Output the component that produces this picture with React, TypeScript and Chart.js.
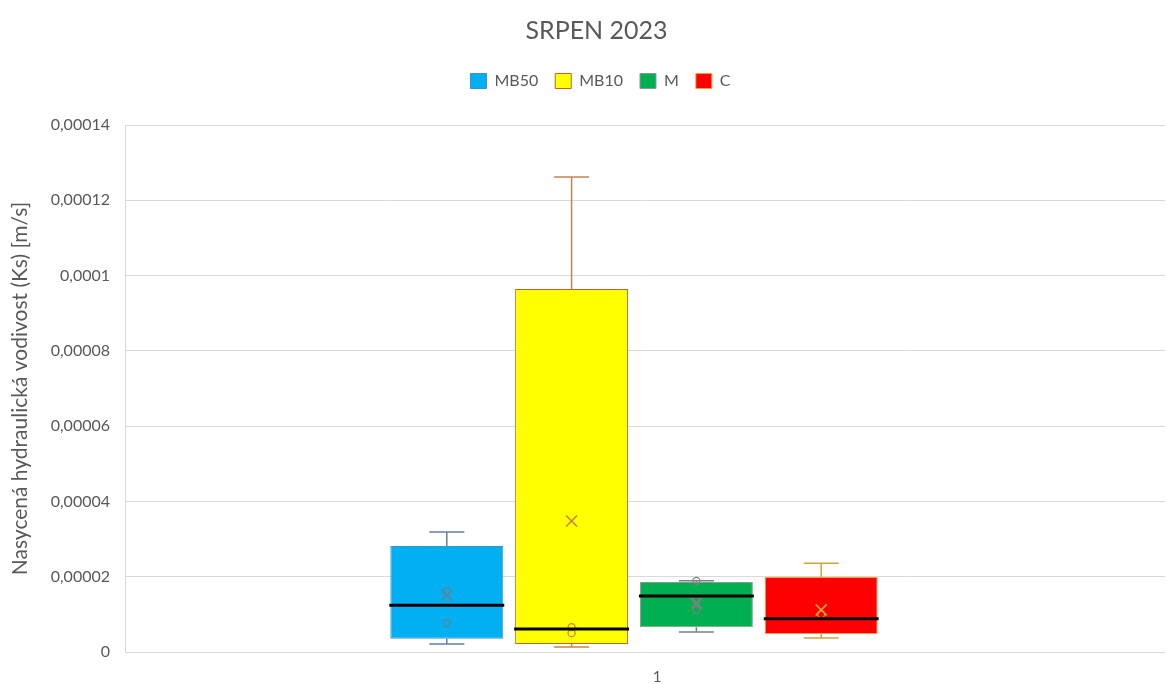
import React, { useEffect, useRef } from "react";
import { Chart, registerables } from "chart.js";

Chart.register(...registerables);

const categories = ["1"];
const seriesNames = ["MB50", "MB10", "M", "C"];
const q1 = [3.5e-6, 2.1e-6, 6.6e-6, 4.8e-6];
const q3 = [2.815e-5, 9.64e-5, 1.86e-5, 1.99e-5];
const whiskerMin = [2.1e-6, 1.3e-6, 5.3e-6, 3.7e-6];
const whiskerMax = [3.19e-5, 1.262e-4, 1.89e-5, 2.36e-5];
const medians = [1.24e-5, 6.1e-6, 1.49e-5, 8.8e-6];
const means = [1.51e-5, 3.48e-5, 1.3e-5, 1.12e-5];
const innerPoints = [
  [1.62e-5, 7.7e-6],
  [6.6e-6, 5.0e-6],
  [1.89e-5, 1.38e-5, 1.12e-5],
  [1.0e-5],
];
const yTicksMax = 0.00014;
const yTicksStep = 0.00002;

const fillColors = ["#00B0F0", "#FFFF00", "#00B050", "#FF0000"];
const borderColors = ["#3d93c8", "#C0652A", "#8a9a90", "#F0A040"];
const whiskerColors = ["#62809c", "#c8824a", "#808080", "#cfa53a"];

const FONT = "Lato, 'Open Sans', sans-serif";
const TEXT = "#595959";

const boxPlugin = {
  id: "boxDecor",
  afterDatasetsDraw(chart: any) {
    const ctx = chart.ctx;
    const y = chart.scales.y;
    seriesNames.forEach((_, i) => {
      const meta = chart.getDatasetMeta(i);
      const bar: any = meta.data[0];
      if (!bar) return;
      const x = bar.x;
      const w = bar.width;
      const cap = w * 0.31;
      const col = whiskerColors[i];
      ctx.save();
      ctx.strokeStyle = col;
      ctx.lineWidth = 1.5;
      const yq3 = y.getPixelForValue(q3[i]);
      const yq1 = y.getPixelForValue(q1[i]);
      const yMax = y.getPixelForValue(whiskerMax[i]);
      const yMin = y.getPixelForValue(whiskerMin[i]);
      ctx.beginPath();
      ctx.moveTo(x, yq3);
      ctx.lineTo(x, yMax);
      ctx.moveTo(x - cap / 2, yMax);
      ctx.lineTo(x + cap / 2, yMax);
      ctx.moveTo(x, yq1);
      ctx.lineTo(x, yMin);
      ctx.moveTo(x - cap / 2, yMin);
      ctx.lineTo(x + cap / 2, yMin);
      ctx.stroke();
      ctx.lineWidth = 1.3;
      innerPoints[i].forEach((v) => {
        const py = y.getPixelForValue(v);
        ctx.beginPath();
        ctx.arc(x, py, 3.5, 0, Math.PI * 2);
        ctx.stroke();
      });
      const my = y.getPixelForValue(means[i]);
      const s = 5.5;
      ctx.lineWidth = 1.6;
      ctx.beginPath();
      ctx.moveTo(x - s, my - s);
      ctx.lineTo(x + s, my + s);
      ctx.moveTo(x + s, my - s);
      ctx.lineTo(x - s, my + s);
      ctx.stroke();
      const mdy = y.getPixelForValue(medians[i]);
      ctx.strokeStyle = "#000000";
      ctx.lineWidth = 3;
      ctx.beginPath();
      ctx.moveTo(x - w / 2 - 1, mdy);
      ctx.lineTo(x + w / 2 + 1, mdy);
      ctx.stroke();
      ctx.restore();
    });
  },
};

const headerPlugin = {
  id: "headerTweaks",
  beforeInit(chart: any) {
    const legend = chart.legend;
    if (!legend) return;
    const fit = legend.fit;
    legend.fit = function () {
      fit.call(this);
      this.height += 26;
    };
  },
  afterLayout(chart: any) {
    const t = chart.titleBlock;
    if (t) {
      t.left += 14;
      t.right += 14;
    }
    const l = chart.legend;
    if (l) {
      l.left += 18;
      l.right += 18;
    }
    const xs = chart.scales.x;
    if (xs) {
      xs.left -= 11;
      xs.right -= 11;
      xs.configure();
    }
  },
};

function fmt(v: number) {
  const n = Number(Number(v).toPrecision(6));
  return String(n).replace(".", ",");
}

export default function App() {
  const ref = useRef<HTMLCanvasElement>(null);
  useEffect(() => {
    document.body.style.margin = "0";
    const chart = new Chart(ref.current as HTMLCanvasElement, {
      type: "bar",
      data: {
        labels: categories,
        datasets: seriesNames.map((name, i) => ({
          label: name,
          data: [[q1[i], q3[i]]] as any,
          backgroundColor: fillColors[i],
          borderColor: borderColors[i],
          borderWidth: 1,
          borderSkipped: false,
        })),
      },
      options: {
        animation: false,
        responsive: true,
        maintainAspectRatio: false,
        layout: { padding: { left: 0, right: 1, top: 0, bottom: 0 } },
        datasets: { bar: { categoryPercentage: 0.48, barPercentage: 0.905 } },
        plugins: {
          title: {
            display: true,
            text: "SRPEN 2023",
            color: TEXT,
            font: { family: FONT, size: 25, weight: "normal" },
            padding: { top: 16, bottom: 10 },
          },
          legend: {
            display: true,
            position: "top",
            labels: {
              color: TEXT,
              font: { family: FONT, size: 16 },
              boxWidth: 16,
              boxHeight: 15,
              padding: 17,
            },
          },
          tooltip: { enabled: false },
        },
        scales: {
          x: {
            afterFit(scale: any) {
              scale.height = 32;
            },
            grid: { display: false, drawTicks: false },
            border: { display: false },
            ticks: { color: TEXT, font: { family: FONT, size: 15 }, padding: 16, labelOffset: 23 },
          },
          y: {
            min: 0,
            max: yTicksMax,
            afterFit(scale: any) {
              scale.width = 125;
            },
            grid: { color: "#d9d9d9", drawTicks: false },
            border: { display: true, color: "#d9d9d9" },
            ticks: {
              stepSize: yTicksStep,
              color: TEXT,
              font: { family: FONT, size: 16 },
              padding: 15,
              callback: (v: any) => fmt(v),
            },
            title: {
              display: true,
              text: "Nasycená hydraulická vodivost (Ks) [m/s]",
              color: TEXT,
              font: { family: FONT, size: 21 },
              padding: { top: 8, bottom: 4 },
            },
          },
        },
      },
      plugins: [boxPlugin, headerPlugin],
    });
    return () => chart.destroy();
  }, []);
  return (
    <div style={{ position: "fixed", left: 0, top: 0, width: 1166, height: 684, background: "#fff" }}>
      <canvas ref={ref} />
    </div>
  );
}
